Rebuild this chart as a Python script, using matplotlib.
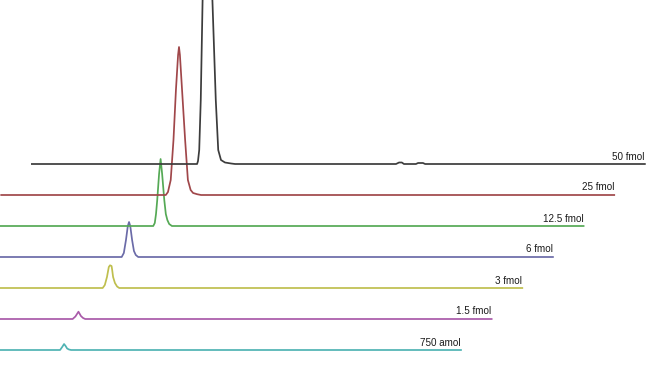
import matplotlib
matplotlib.use('Agg')
import matplotlib.pyplot as plt

# stacked chromatograms, bottom (lowest amount) to top
labels = ['750 amol', '1.5 fmol', '3 fmol', '6 fmol', '12.5 fmol', '25 fmol', '50 fmol']
colors = ['#4fb3b3', '#a95aa9', '#bfbf4e', '#6b6ba8', '#55a955', '#a0474a', '#3c3c3c']

# retention time (min) / intensity (arb.)
t_750a = [0, 6.92, 7.00, 7.05, 7.10, 7.15, 7.21, 7.28, 20]
i_750a = [0, 0, 3.5, 6, 4, 1.5, 0.5, 0, 0]

t_1_5f = [0, 6.33, 6.42, 6.52, 6.60, 6.67, 6.74, 20]
i_1_5f = [0, 0, 2.5, 7.3, 3, 1, 0, 0]

t_3f = [0, 6.31, 6.38, 6.45, 6.51, 6.55, 6.60, 6.62, 6.65, 6.71, 6.78, 6.85, 20]
i_3f = [0, 0, 3, 11, 21, 22.7, 22, 18, 11, 5, 1.5, 0, 0]

t_6f = [0, 5.93, 6.00, 6.07, 6.13, 6.17, 6.21, 6.27, 6.33, 6.39, 6.47, 20]
i_6f = [0, 0, 4, 17, 31, 35, 31, 17, 6, 2, 0, 0]

t_12f = [0, 5.96, 6.01, 6.05, 6.09, 6.15, 6.20, 6.25, 6.32, 6.37, 6.42, 6.48, 6.57, 20]
i_12f = [0, 0, 3, 12, 26, 52, 67, 52, 26, 12, 6, 2, 0, 0]

t_25f = [0, 5.37, 5.44, 5.53, 5.62, 5.70, 5.77, 5.80, 5.83, 5.90, 6.00, 6.09, 6.18,
         6.26, 6.39, 6.52, 20]
i_25f = [0, 0, 3, 15, 55, 105, 140, 148, 140, 105, 55, 15, 5, 2, 0.8, 0, 0]

t_50f = [0, 5.39, 5.42, 5.46, 5.51, 5.57, 5.63, 5.73, 5.83, 5.89, 6.00, 6.08, 6.17,
         6.30, 6.50, 6.63, 11.88, 11.98, 12.07, 12.14, 12.53, 12.60, 12.76, 12.83, 20]
i_50f = [0, 0, 3, 14, 64, 164, 290, 340, 290, 164, 64, 14, 4, 1.5, 0.5, 0,
         0, 1.5, 1.5, 0, 0, 1, 1, 0, 0]

times = [t_750a, t_1_5f, t_3f, t_6f, t_12f, t_25f, t_50f]
intens = [i_750a, i_1_5f, i_3f, i_6f, i_12f, i_25f, i_50f]

dx = 1.0    # horizontal shift per trace (min)
dy = 31.0   # vertical shift per trace

fig = plt.figure(figsize=(6.54, 3.70), dpi=100)
ax = fig.add_axes([0, 0, 1, 1])

for k in range(len(labels)):
    x = [t + k * dx for t in times[k]]
    y = [v + k * dy for v in intens[k]]
    ax.plot(x, y, color=colors[k], lw=1.25)
    ax.text(x[-1], k * dy + 4.5, labels[k], ha='right', va='baseline',
            fontsize=7.1, family='Liberation Sans', color='#1a1a1a')

ax.set_xlim(4.96, 4.96 + 654 / 30.65)
ax.set_ylim(-20, 350)
ax.axis('off')

fig.savefig('out.png', dpi=100)
